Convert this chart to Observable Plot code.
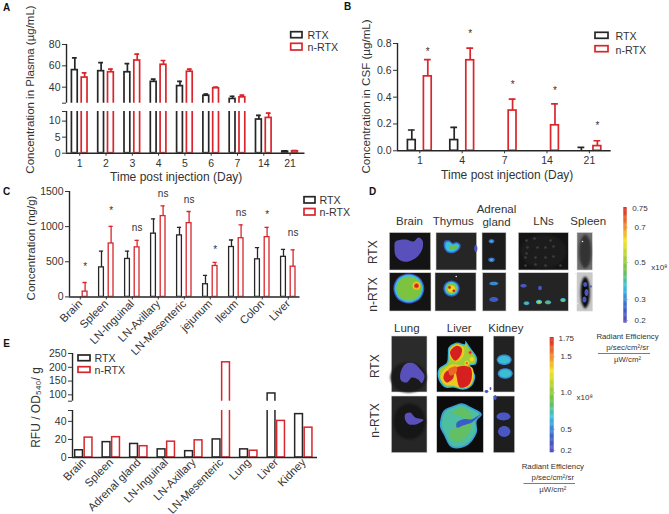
<!DOCTYPE html>
<html><head><meta charset="utf-8">
<script src="https://cdn.jsdelivr.net/npm/d3@7"></script>
<script src="https://cdn.jsdelivr.net/npm/@observablehq/plot@0.6"></script>
<style>html,body{margin:0;padding:0;background:#fff}#root{position:relative;width:669px;height:514px;overflow:hidden}
#root svg{position:absolute;background:none;max-width:none;overflow:visible}</style></head>
<body><div id="root"></div>
<script>
// ---------- data ----------
const series = ["RTX", "n-RTX"];
const plasmaDays = ["1","2","3","4","5","6","7","14","21"];
const plasmaRtx = [56,55,54,45,41,32,29,10.5,0.5];
const plasmaRtxTop = [67.5,63,62,47.5,45.5,33.5,31.5,11.8,0.7];
const plasmaN = [49,54,65,61,54.5,39,30.5,11,0.6];
const plasmaNTop = [53.5,57,71,65,57,40,32.5,12.5,0.8];

const csfDays = ["1","4","7","14","21"];
const csfRtx = [0.08,0.08,0,0,0];
const csfRtxTop = [0.155,0.175,null,null,0.025];
const csfN = [0.555,0.675,0.30,0.19,0.035];
const csfNTop = [0.68,0.765,0.385,0.35,0.075];
const csfStars = ["*","*","*","*","*"];
const csfStarY = [0.74,0.87,0.495,0.45,0.19];

const tissues = ["Brain","Spleen","LN-Inguinal","LN-Axillary","LN-Mesenteric","jejunum","Ileum","Colon","Liver"];
const tissueRtx = [0,420,540,900,875,180,710,535,570];
const tissueRtxTop = [null,650,650,1110,990,305,810,700,675];
const tissueN = [75,760,705,1150,1050,440,835,850,430];
const tissueNTop = [205,1005,805,1295,1215,490,1025,990,670];
const tissueSig = ["*","*","ns","ns","ns","*","ns","*","ns"];
const tissueSigY = [425,1225,990,1474,1375,670,1204,1168,910];

const organs = ["Brain","Spleen","Adrenal gland","LN-Inguinal","LN-Axillary","LN-Mesenteric","Lung","Liver","Kidney"];
const rfuRtx = [8,17,15,9,7,20,9,105,48];
const rfuN = [22,22.5,12.5,17.5,19,218,7.5,40.5,33];

const BLACK = "#262626", RED = "#d8262c", TXT = "#333";
const FONT = "'Liberation Sans', Arial, sans-serif";
const root = document.getElementById("root");

// ---------- bar panels ----------
function rows(a, at, b, bt, off) {
  const r = [];
  a.forEach((v, i) => r.push({i, s: series[0], o: -off, v, e: at ? at[i] : null}));
  b.forEach((v, i) => r.push({i, s: series[1], o: off, v, e: bt ? bt[i] : null}));
  return r;
}
function panel(c) {
  const ml = 40, mr = 6, mt = 6, mb = c.mb ?? 22;
  const xd = [(c.L - c.x0) / c.step, (c.R - c.x0) / c.step];
  const off = c.off / c.step, hw = c.hw / c.step, cap = (c.cap ?? 0) / c.step;
  const d = rows(c.a, c.at, c.b, c.bt, off);
  const errs = d.filter(r => r.e != null);
  const sw = c.sw ?? 1.7;
  const marks = [
    Plot.rect(d, {x1: r => r.i + r.o - hw, x2: r => r.i + r.o + hw, y1: () => 0, y2: "v", fill: "white", stroke: "s", strokeWidth: sw, clip: true}),
    Plot.ruleX(errs, {x: r => r.i + r.o, y1: "v", y2: "e", stroke: "s", strokeWidth: sw, clip: true}),
    Plot.ruleY(errs, {y: "e", x1: r => r.i + r.o - cap, x2: r => r.i + r.o + cap, stroke: "s", strokeWidth: sw, clip: true}),
    Plot.ruleX([xd[0]], {stroke: BLACK, strokeWidth: 1.4}),
    Plot.axisY({ticks: c.yt, tickFormat: c.yf, tickSize: 4, tickPadding: 2, label: null, fontSize: c.fs ?? 10.5})
  ];
  if (c.labels) {
    marks.push(Plot.ruleY([c.yd[0]], {stroke: BLACK, strokeWidth: 1.5}));
    marks.push(Plot.axisX({ticks: c.labels.map((_, i) => i), tickFormat: i => c.labels[i], tickSize: c.ts ?? 3, tickPadding: c.tp ?? 3,
      label: null, fontSize: c.xfs ?? 10.5, tickRotate: c.rot ?? 0, textAnchor: c.rot ? "end" : "middle"}));
  }
  if (c.sig) marks.push(Plot.text(c.sig, {x: (_, i) => i + off, y: (_, i) => c.sigY[i], text: t => t, fontSize: 10, fill: TXT}));
  const svg = Plot.plot({
    width: c.R - c.L + ml + mr, height: c.B - c.T + mt + mb,
    marginLeft: ml, marginRight: mr, marginTop: mt, marginBottom: mb,
    x: {domain: xd, axis: null}, y: {domain: c.yd, axis: null},
    color: {domain: series, range: [BLACK, RED]},
    style: {fontFamily: FONT, color: TXT, background: "none", overflow: "visible"},
    marks
  });
  svg.style.left = (c.L - ml) + "px";
  svg.style.top = (c.T - mt) + "px";
  root.appendChild(svg);
}

// ---------- panel D imagery, in picture coordinates ----------
const imagePanels = [
  // x1,x2,y1,y2,grey
  [389.3,430.7,232.5,270,"#141414"],[436,476.7,232.5,270,"#262626"],[482,506,232.5,270,"#1c1c1c"],[518.3,568.3,232.5,270,"#141414"],[577,592.3,232.5,270,"#6e6e6e"],
  [389.3,431,272.7,311,"#141414"],[435,476,272.7,311,"#222"],[482.5,506,272.7,311,"#262626"],[518.3,568.3,272.7,311,"#242424"],[577,592.3,272.7,311,"#c8c8c8"],
  [391.3,427,336,392,"#2b2b2b"],[436.7,483.3,336,392,"#0c0c0c"],[493.3,514.7,336,392,"#222"],
  [391.3,427,396,452.7,"#262626"],[436.7,483.3,396,452.7,"#0c0c0c"],[493.3,514.7,396,452.7,"#1e1e1e"]
];
const tissueShade = [
  // cx,cy,rx,ry,grey
  [584.7,251,6,17,"#333"],[584.7,292,4.5,16,"#0a0a0a"],
  [408,377,18,15,"#1a1a1a"],[409,421,16,18,"#161616"],
  [543,251,23,17,"#1c1c1c"]
];
const faint = [[526,240],[534,238],[527,247],[537,247],[545,247],[553,246],[525,257],[535,257],[545,257],[553,256],[525,265],[535,264],[545,265],[560,265],[526,253],[550,240]];
const polygons = [
  // level, outline
  [0,[[395,241],[405,239],[413,241],[418,237],[422,240],[422,248],[417,256],[408,261],[400,260],[395,255],[394,248]]],
  [0,[[399.7,373.7],[404.7,363.7],[413,362.7],[419.7,368.7],[424,375.3],[421.3,382.7],[417.3,378.7],[411.3,377],[406.3,382],[400.7,380.3]]],
  [0,[[404.7,413.7],[409.7,412],[414.7,417],[423,419.3],[416.3,423.7],[408,423.7],[404.7,419.3]]],
  // liver RTX
  [0.28,[[448,347],[456.3,342],[464.7,343.7],[464.7,340.3],[469.7,347],[476.3,357],[475.3,363.7],[469.7,365.3],[474.7,375.3],[471.3,385.3],[463,389.3],[453,387],[444.7,387],[438,378.7],[438,368.7],[446.3,362],[447.3,353.7]]],
  [0.55,[[449,348],[456.3,343.5],[464,345],[465,342.5],[468.5,348],[475,357.5],[474,362.5],[468,364.5],[473.3,375.3],[470,384.3],[462.5,388],[453,385.7],[445.5,385.7],[439.5,378],[439.5,369],[447.5,363],[448.5,354]]],
  [0.74,[[443,370],[451,364],[463,365.5],[471.5,367],[473,377],[469.5,385],[463,387.5],[453,385],[445,384],[440,377]]],
  [0.74,[[449.7,348.7],[456.3,343.7],[463,347],[463,355.3],[456.3,361.3],[449.7,357]]],
  [1,[[449.7,351],[456.3,345.3],[461.3,348],[460,355.3],[454.7,360.3],[450.7,356]]],
  [1,[[444.7,372],[452,369],[453,377],[446.3,382],[443,378]]],
  [1,[[456.3,367],[469.7,367],[471.3,377],[468,384.7],[459.7,387],[456.3,377]]],
  [0.88,[[448,369],[456,366],[456,372],[450,375]]],
  // liver n-RTX
  [0.24,[[439.7,420.3],[443,410.3],[453,405.3],[461.3,402.7],[471.3,407],[481.3,413.7],[476.3,420.3],[476.3,432],[466.3,445.3],[451.3,447],[443,433.7],[439.7,427]]],
  [0.36,[[441.5,420.3],[444.5,411.3],[453.5,406.8],[461,404.5],[470.5,408.5],[479,414],[475,419.5],[475,431.5],[465.5,443.8],[452,445.5],[444.5,433],[441.5,426.5]]],
  [0.42,[[452,412],[462,407],[470,413],[471,426],[463,439],[453,441],[449,431],[456,427],[466,419]]],
  [0.12,[[456.3,422],[463,418.7],[471.3,418.7],[479.7,413.7],[471.3,422],[463,424.7],[456.3,427]]],
  // thymus RTX
  [0.14,[[444,240.5],[449,240],[452,242.5],[456,241.5],[460,244],[459,248.5],[453,252.5],[447,252],[443.5,247]]],
  [0.3,[[445.5,242],[449,241.5],[452,244],[456,243],[458.5,245],[457.5,248],[453,251],[447.5,250.5],[445,247]]],
  [0.45,[[449,245],[452,246],[456,244.5],[456.5,247],[453,249.5],[449.5,248.5]]]
];
const ellipses = [
  // cx,cy,rx,ry,level
  [469.7,352,2,2,0.85],[469.7,352,1,1,1],[466.3,362.7,2.4,2.4,0.72],[466.3,362.7,1.2,1.2,0.88],[471.3,358.7,2.2,2.2,0.72],
  [475.3,248,1.6,3.6,0.08],
  [408.3,288,15.5,15,0.1],[408.3,288,14.2,13.7,0.3],[408.5,288,12.7,12,0.48],[416,285.3,4,4,0.74],[416,285.3,2.7,2.7,0.88],[416,285.3,1.8,1.8,1],
  [451,288,8.2,8,0.12],[451,288,6.8,6.8,0.3],[451,288,5.4,5.4,0.5],[451,288.5,3.8,3.5,0.72],[449,287,1.4,1.4,1],[453.3,290.3,1.4,1.2,1],
  [491,240.7,3,2.2,0.14],[491,240.7,1.4,1,0.3],[491,259.3,3.3,2.4,0.14],[491,259.3,1.5,1.1,0.3],
  [493.3,283,4.5,1.8,0.2],[493.3,299,4.5,2.6,0.1],
  [523,285.3,3.2,1.7,0.08],[539.5,287.5,2,2.2,0.08],[526,302.7,3,2,0.24],[526,302.7,1.6,1.1,0.4],[538.5,301.5,3.2,2.2,0.3],[538.5,301.5,1.8,1.2,0.6],[547.5,301.8,3.3,2,0.26],[547.5,301.8,1.8,1.1,0.45],[562.5,299.5,2.8,2,0.3],[562.5,299.5,1.4,1,0.5],
  [584.7,284,2,2.6,0.06],[586,292,2,3.5,0.06],[584,299,2,3,0.06],[590.5,286,0.9,1.2,0.08],
  [503.7,359.3,7.5,5.2,0.2],[503.7,359.3,6,3.9,0.31],[504.7,373,7.5,5.2,0.2],[504.7,373,6,3.9,0.31],
  [503,416,7,3.9,0.06],[503.7,431,6.2,5.4,0.06],
  [486,391,2,1.5,0.06],[494.7,397,1.5,2.4,0.06],[490,388,0.9,1.6,0.06]
];
const whiteSpecks = [[455.7,276],[582,241],[575,273],[577,303]];
const outline = [[0,-1],[0.71,-0.71],[1,0],[0.71,0.71],[0,1],[-0.71,0.71],[-1,0],[-0.71,-0.71]];
const polyRows = [];
polygons.forEach((p, id) => p[1].forEach(q => polyRows.push({id, l: p[0], x: q[0], y: q[1]})));
ellipses.forEach((e, k) => {
  const id = "e" + k;
  for (const [a, b] of outline) polyRows.push({id, l: e[4], x: e[0] + a * e[2], y: e[1] + b * e[3]});
});
const shadeRows = [];
tissueShade.forEach((e, k) => { for (const [a, b] of outline) shadeRows.push({id: k, g: e[4], x: e[0] + a * e[2], y: e[1] + b * e[3]}); });

// colour bars: [left,right,top,bottom]
const bars = [[623.3,626.7,207.3,322.7],[549.7,553.7,337.3,452.3]];
const levels = d3.range(0, 1, 0.01);
const barRows = bars.flatMap(b => levels.map(l => ({l, x1: b[0], x2: b[1], y1: b[3] - (b[3] - b[2]) * l, y2: b[3] - (b[3] - b[2]) * (l + 0.012)})));

// ---------- text, in picture coordinates ----------
const titleText = [
  ["Concentration in Plasma (µg/mL)",30,89,11.5,-90],["Time post injection (Day)",175.7,176.5,12,0],
  ["Concentration in CSF (µg/mL)",366,96,11.6,-90],["Time post injection (Day)",506.7,175,12,0],
  ["Concentration (ng/g)",30.7,247.5,11.5,-90],
  ["RFU / OD₅₄₀/ g",36,407,12,-90],
  ["Brain",409,221,11.5,0],["Thymus",452.7,221,11.5,0],["Adrenal",496,208.5,11.5,0],["gland",496,222,11.5,0],["LNs",543,221,11.5,0],["Spleen",587.7,221,11.5,0],
  ["RTX",373,251.7,12,-90],["n-RTX",373,294,12,-90],
  ["Lung",406.3,328,11.5,0],["Liver",458.7,328,11.5,0],["Kidney",505.3,328,11.5,0],
  ["RTX",374.3,365.7,12,-90],["n-RTX",374.3,420,12,-90],
  ["Radiant Efficiency",627,336,7.8,0],["p/sec/cm²/sr",627,346.5,7.8,0],["µW/cm²",627,358.5,7.8,0],
  ["Radiant Efficiency",552.3,466,7.8,0],["p/sec/cm²/sr",552.3,476.5,7.8,0],["µW/cm²",552.3,489,7.8,0]
];
const leftText = [
  ["RTX",307,35,10.7],["n-RTX",307,47,10.7],["RTX",615,36,10.7],["n-RTX",615,50,10.7],
  ["RTX",319,200,10.7],["n-RTX",319,212,10.7],["RTX",94,358,10.7],["n-RTX",94,370,10.7],
  ["0.75",631.7,208,8],["0.7",634,226.7,8],["0.5",634,262,8],["0.3",634,299,8],["0.2",634,320,8],["x10⁸",650.7,266.7,8],
  ["1.75",558,338,8],["1.5",560,356.3,8],["1.0",560,392.3,8],["0.5",560,428.7,8],["0.2",560,450,8],["x10⁸",576,397,8]
];
const letters = [["A",6,7],["B",347,6],["C",6,191],["D",372,191],["E",6,343]];
const legendBoxes = [
  [290.7,302,31.7,37.7,0],[290.7,302,43.3,50,1],[595,608,32.3,38.3,0],[595,608,45.7,51.7,1],
  [304,315,196.7,203,0],[304,315,208.5,215,1],[78,90,355,360.7,0],[78,90,366.7,372.3,1]
];
const dividers = [[598,650,353],[523.5,575,483]];
const barTicks = [[627,226.7],[627,262],[627,299],[627,320],[554,356.3],[554,392.3],[554,428.7],[554,450]];

const scene = Plot.plot({
  width: 669, height: 514, margin: 0,
  x: {domain: [0, 669], range: [0, 669], axis: null},
  y: {domain: [0, 514], range: [0, 514], axis: null},
  color: {type: "linear", domain: [0,0.12,0.3,0.45,0.7,0.85,1], range: ["#5a50bc","#3a5cc8","#38bede","#6cbf45","#f2e41e","#ee7a28","#d6201f"]},
  style: {fontFamily: FONT, color: TXT, background: "none", overflow: "visible"},
  marks: [
    Plot.rect(imagePanels, {x1: d => d[0], x2: d => d[1], y1: d => d[2], y2: d => d[3], fill: d => d[4], stroke: "#d4d4d4", strokeWidth: 0.6}),
    Plot.line(shadeRows, {x: "x", y: "y", z: "id", fill: "g", stroke: "none", curve: "catmull-rom-closed", imageFilter: "blur(1px)"}),
    Plot.dot(faint, {x: d => d[0], y: d => d[1], r: 1.3, fill: "#3e3e3e", imageFilter: "blur(0.5px)"}),
    Plot.line(polyRows, {x: "x", y: "y", z: "id", fill: "l", stroke: "none", curve: "catmull-rom-closed", imageFilter: "blur(0.5px)"}),
    Plot.dot(whiteSpecks, {x: d => d[0], y: d => d[1], r: 0.8, fill: "#eee"}),
    Plot.rect(barRows, {x1: "x1", x2: "x2", y1: "y1", y2: "y2", fill: "l"}),
    Plot.dot(barTicks, {x: d => d[0], y: d => d[1], r: 0.4, fill: "#666"}),
    Plot.rect(legendBoxes, {filter: d => d[4] === 0, x1: d => d[0], x2: d => d[1], y1: d => d[2], y2: d => d[3], fill: "white", stroke: BLACK, strokeWidth: 1.7}),
    Plot.rect(legendBoxes, {filter: d => d[4] === 1, x1: d => d[0], x2: d => d[1], y1: d => d[2], y2: d => d[3], fill: "white", stroke: RED, strokeWidth: 1.7}),
    Plot.ruleY(dividers, {x1: d => d[0], x2: d => d[1], y: d => d[2], stroke: "#444", strokeWidth: 0.7}),
    Plot.text(titleText, {text: d => d[0], x: d => d[1], y: d => d[2], fontSize: d => d[3], rotate: d => d[4], fill: TXT}),
    Plot.text(leftText, {text: d => d[0], x: d => d[1], y: d => d[2], fontSize: d => d[3], textAnchor: "start", fill: TXT}),
    Plot.text(letters, {text: d => d[0], x: d => d[1], y: d => d[2], fontSize: 10, fontWeight: "bold", fill: "#111"})
  ]
});
scene.style.left = "0px"; scene.style.top = "0px";
root.appendChild(scene);

// ---------- A ----------
const A = {L: 65.5, R: 304, x0: 78.7, step: 26.3, off: 4.9, hw: 2.9, cap: 2.4, a: plasmaRtx, at: plasmaRtxTop, b: plasmaN, bt: plasmaNTop};
panel({...A, T: 44.3, B: 103, yd: [25, 80], yt: [25,40,60,80], yf: v => v === 25 ? "" : String(v), mb: 2});
panel({...A, T: 111, B: 152.7, yd: [0, 13], yt: [0,5,10,13], yf: v => v === 13 ? "" : String(v), labels: plasmaDays});
// ---------- B ----------
panel({L: 397, R: 610.7, T: 42.7, B: 150, x0: 419.3, step: 42.4, off: 8, hw: 3.9, cap: 3.4, yd: [0, 0.8], yt: [0,0.2,0.4,0.6,0.8], yf: d3.format(".1f"),
  a: csfRtx, at: csfRtxTop, b: csfN, bt: csfNTop, labels: csfDays, sig: csfStars, sigY: csfStarY});
// ---------- C ----------
panel({L: 68.5, R: 299, T: 191.3, B: 296.7, x0: 79.3, step: 26, off: 4.8, hw: 2.4, cap: 2.1, sw: 1.3, yd: [0, 1500], yt: [0,500,1000,1500], yf: String,
  a: tissueRtx, at: tissueRtxTop, b: tissueN, bt: tissueNTop, labels: tissues, rot: -45, mb: 60, ts: 3, tp: 2, xfs: 11.2, sig: tissueSig, sigY: tissueSigY});
// ---------- E ----------
const E = {L: 71.7, R: 316.7, x0: 83, step: 27.5, off: 4.75, hw: 3.9, a: rfuRtx, b: rfuN, sw: 1.5, cap: 0};
panel({...E, T: 353.3, B: 401, yd: [77, 250], yt: [77,100,150,200,250], yf: v => v === 77 ? "" : String(v), mb: 2});
panel({...E, T: 410, B: 457, yd: [0, 52], yt: [0,20,40,52], yf: v => v === 52 ? "" : String(v), labels: organs, rot: -45, mb: 55, ts: 0, tp: 3, xfs: 11.2});
</script></body></html>
